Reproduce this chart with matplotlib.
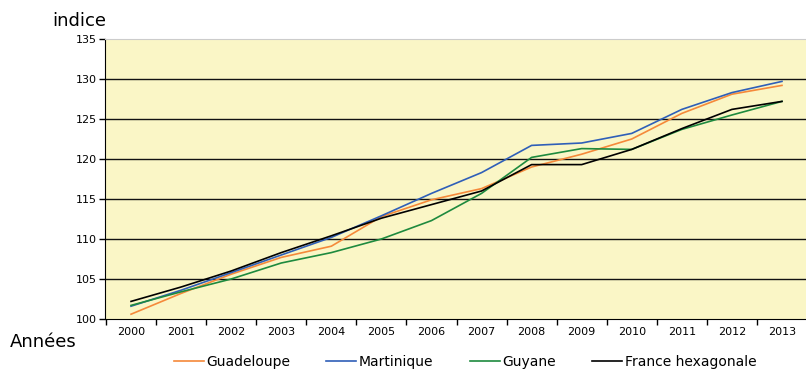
import matplotlib
matplotlib.use("Agg")
import matplotlib.pyplot as plt
import numpy as np

years = [str(y) for y in range(2000, 2014)]

guadeloupe = [100.6, 103.2, 105.6, 107.7, 109.1, 112.8, 114.9, 116.3, 119.0, 120.6, 122.5, 125.7, 128.1, 129.2]
martinique = [101.6, 103.6, 105.8, 108.0, 110.2, 112.9, 115.7, 118.3, 121.7, 122.0, 123.2, 126.2, 128.3, 129.7]
guyane = [101.7, 103.4, 105.0, 107.0, 108.3, 110.0, 112.3, 115.7, 120.2, 121.3, 121.2, 123.7, 125.5, 127.2]
france_hex = [102.2, 104.0, 106.0, 108.3, 110.4, 112.6, 114.3, 116.0, 119.3, 119.3, 121.2, 123.8, 126.2, 127.2]

series = [
    ("Guadeloupe", guadeloupe, "#F5893A"),
    ("Martinique", martinique, "#2F5FB8"),
    ("Guyane", guyane, "#1E8A3E"),
    ("France hexagonale", france_hex, "#000000"),
]

yticks = [100, 105, 110, 115, 120, 125, 130, 135]

plt.rcParams["font.family"] = ["DejaVu Sans"]

fig = plt.figure(figsize=(8.06, 3.72), dpi=100)
ax = fig.add_axes([105 / 806, 1 - 319 / 372, 1 - 105 / 806, (319 - 39) / 372])
ax.set_facecolor("#FAF6C6")

x = np.arange(len(years))
for name, vals, col in series:
    ax.plot(x, vals, color=col, lw=1.2, label=name, zorder=3)

ax.set_ylim(100, 135)
ax.set_xlim(-0.52, len(years) - 0.52)
ax.set_yticks(yticks)
ax.set_yticklabels([str(v) for v in yticks], fontsize=8)
for v in yticks[1:-1]:
    ax.axhline(v, color="#111111", lw=1.0, zorder=1)

ax.set_xticks(x)
ax.set_xticklabels(years, fontsize=8)
ax.tick_params(axis="x", which="major", length=0, pad=6)
ax.set_xticks(np.arange(-0.5, len(years) - 0.5, 1.0), minor=True)
ax.tick_params(axis="x", which="minor", length=4, width=1, color="black")
ax.tick_params(axis="y", length=4, width=1, pad=2)

ax.spines["left"].set_color("black")
ax.spines["bottom"].set_color("black")
ax.spines["right"].set_visible(False)
ax.spines["top"].set_color("#CCCCCC")

fig.text(52 / 806, 1 - 21 / 372, "indice", fontsize=13, va="center", ha="left")
fig.text(10 / 806, 1 - 342 / 372, "Années", fontsize=13, va="center", ha="left")

fig.legend(loc="center", bbox_to_anchor=(465 / 806, 1 - 362 / 372), ncol=4,
           frameon=False, fontsize=10, handlelength=2.15, handletextpad=0.2,
           columnspacing=2.6)

fig.savefig("out.png", dpi=100)
